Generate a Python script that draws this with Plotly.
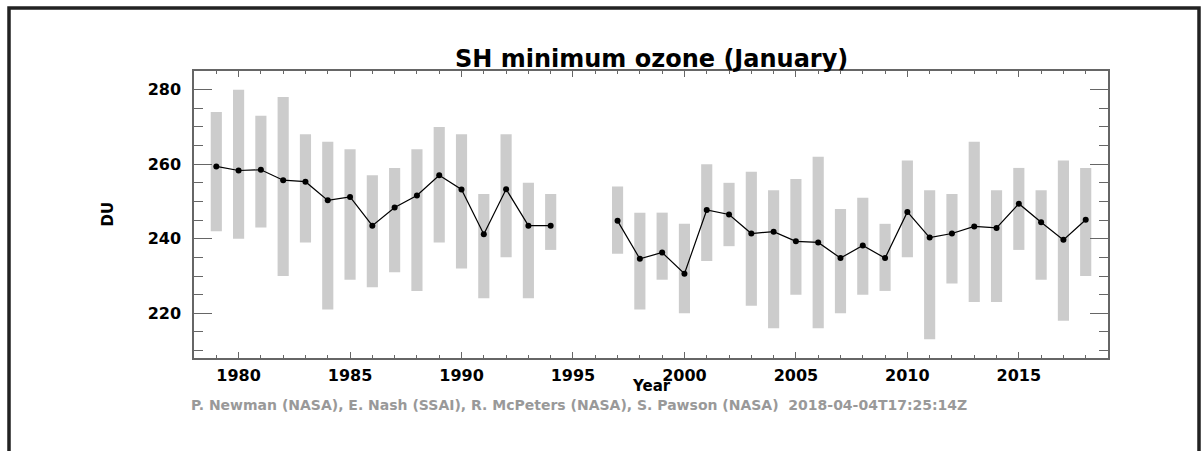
import plotly.graph_objects as go

years = list(range(1979, 2019))
mean_du = [259.4, 258.3, 258.5, 255.7, 255.3, 250.3, 251.2, 243.5, 248.4, 251.6,
           257.0, 253.2, 241.2, 253.3, 243.5, 243.5, None, None, 244.8, 234.6,
           236.3, 230.6, 247.7, 246.5, 241.4, 241.9, 239.3, 239.0, 234.8, 238.2,
           234.8, 247.2, 240.3, 241.4, 243.3, 242.9, 249.4, 244.4, 239.7, 245.1]
high_du = [274, 280, 273, 278, 268, 266, 264, 257, 259, 264,
           270, 268, 252, 268, 255, 252, None, None, 254, 247,
           247, 244, 260, 255, 258, 253, 256, 262, 248, 251,
           244, 261, 253, 252, 266, 253, 259, 253, 261, 259]
low_du = [242, 240, 243, 230, 239, 221, 229, 227, 231, 226,
          239, 232, 224, 235, 224, 237, None, None, 236, 221,
          229, 220, 234, 238, 222, 216, 225, 216, 220, 225,
          226, 235, 213, 228, 223, 223, 237, 229, 218, 230]

x_ticks = [1980, 1985, 1990, 1995, 2000, 2005, 2010, 2015]
y_ticks = [220, 240, 260, 280]

title_text = "SH minimum ozone (January)"
x_title = "Year"
y_title = "DU"
footer = "P. Newman (NASA), E. Nash (SSAI), R. McPeters (NASA), S. Pawson (NASA)  2018-04-04T17:25:14Z"

bar_x = [y for y, h in zip(years, high_du) if h is not None]
bar_base = [l for l, h in zip(low_du, high_du) if h is not None]
bar_len = [h - l for l, h in zip(low_du, high_du) if h is not None]

FONT = "DejaVu Sans"
axis_col = "#666666"

fig = go.Figure()
fig.add_trace(go.Bar(x=bar_x, y=bar_len, base=bar_base, width=0.5,
                     marker=dict(color="#cccccc", line=dict(width=0)),
                     hoverinfo="skip"))
fig.add_trace(go.Scatter(x=years, y=mean_du, mode="lines+markers",
                         connectgaps=False,
                         line=dict(color="black", width=1.2),
                         marker=dict(color="black", size=6)))

fig.update_layout(
    width=1203, height=451,
    margin=dict(l=194, r=95, t=71, b=93),
    paper_bgcolor="white", plot_bgcolor="white",
    showlegend=False,
    font=dict(family=FONT, color="black"),
)
fig.update_xaxes(
    range=[1978, 2019], tickvals=x_ticks, ticktext=[str(v) for v in x_ticks],
    showgrid=False, zeroline=False, showline=True, linecolor=axis_col, linewidth=1.5,
    mirror="ticks", ticks="inside", ticklen=6, tickwidth=1, tickcolor=axis_col,
    minor=dict(dtick=1, tick0=1978, ticks="inside", ticklen=3, tickcolor=axis_col, showgrid=False),
    tickfont=dict(family=FONT, size=16, weight="bold", color="black"),
    ticklabelstandoff=2,
)
fig.update_yaxes(
    range=[208, 285], tickvals=y_ticks, ticktext=[str(v) for v in y_ticks],
    showgrid=False, zeroline=False, showline=True, linecolor=axis_col, linewidth=1.5,
    mirror="ticks", ticks="inside", ticklen=18, tickwidth=1, tickcolor=axis_col,
    minor=dict(dtick=5, tick0=200, ticks="inside", ticklen=9, tickcolor=axis_col, showgrid=False),
    tickfont=dict(family=FONT, size=16, weight="bold", color="black"),
    ticklabelstandoff=8,
)

# Titles and texts
fig.add_annotation(text=title_text, xref="paper", yref="paper", x=0.5, y=(358 - 59) / 287,
                   showarrow=False, xanchor="center", yanchor="middle",
                   font=dict(family=FONT, size=24, weight="bold", color="black"))
fig.add_annotation(text=x_title, xref="paper", yref="paper", x=(651 - 194) / 914, y=(358 - 386) / 287,
                   showarrow=False, xanchor="center", yanchor="middle",
                   font=dict(family=FONT, size=15, weight="bold", color="black"))
fig.add_annotation(text=y_title, xref="paper", yref="paper", x=(107 - 194) / 914, y=0.5,
                   showarrow=False, xanchor="center", yanchor="middle", textangle=-90,
                   font=dict(family=FONT, size=15, weight="bold", color="black"))
fig.add_annotation(text=footer, xref="paper", yref="paper", x=(189 - 194) / 914, y=(358 - 405) / 287,
                   showarrow=False, xanchor="left", yanchor="middle",
                   font=dict(family=FONT, size=14, weight="bold", color="#999999"))

# Outer frame
fig.add_shape(type="rect", xref="paper", yref="paper",
              x0=(9 - 194) / 914, x1=(1199 - 194) / 914,
              y0=(358 - 470) / 287, y1=(358 - 8) / 287,
              line=dict(color="#222222", width=3.5), fillcolor="rgba(0,0,0,0)", layer="above")

fig.write_html("out.html", config={"displayModeBar": False},
               post_script="document.body.style.margin='0';document.body.style.overflow='hidden';")
